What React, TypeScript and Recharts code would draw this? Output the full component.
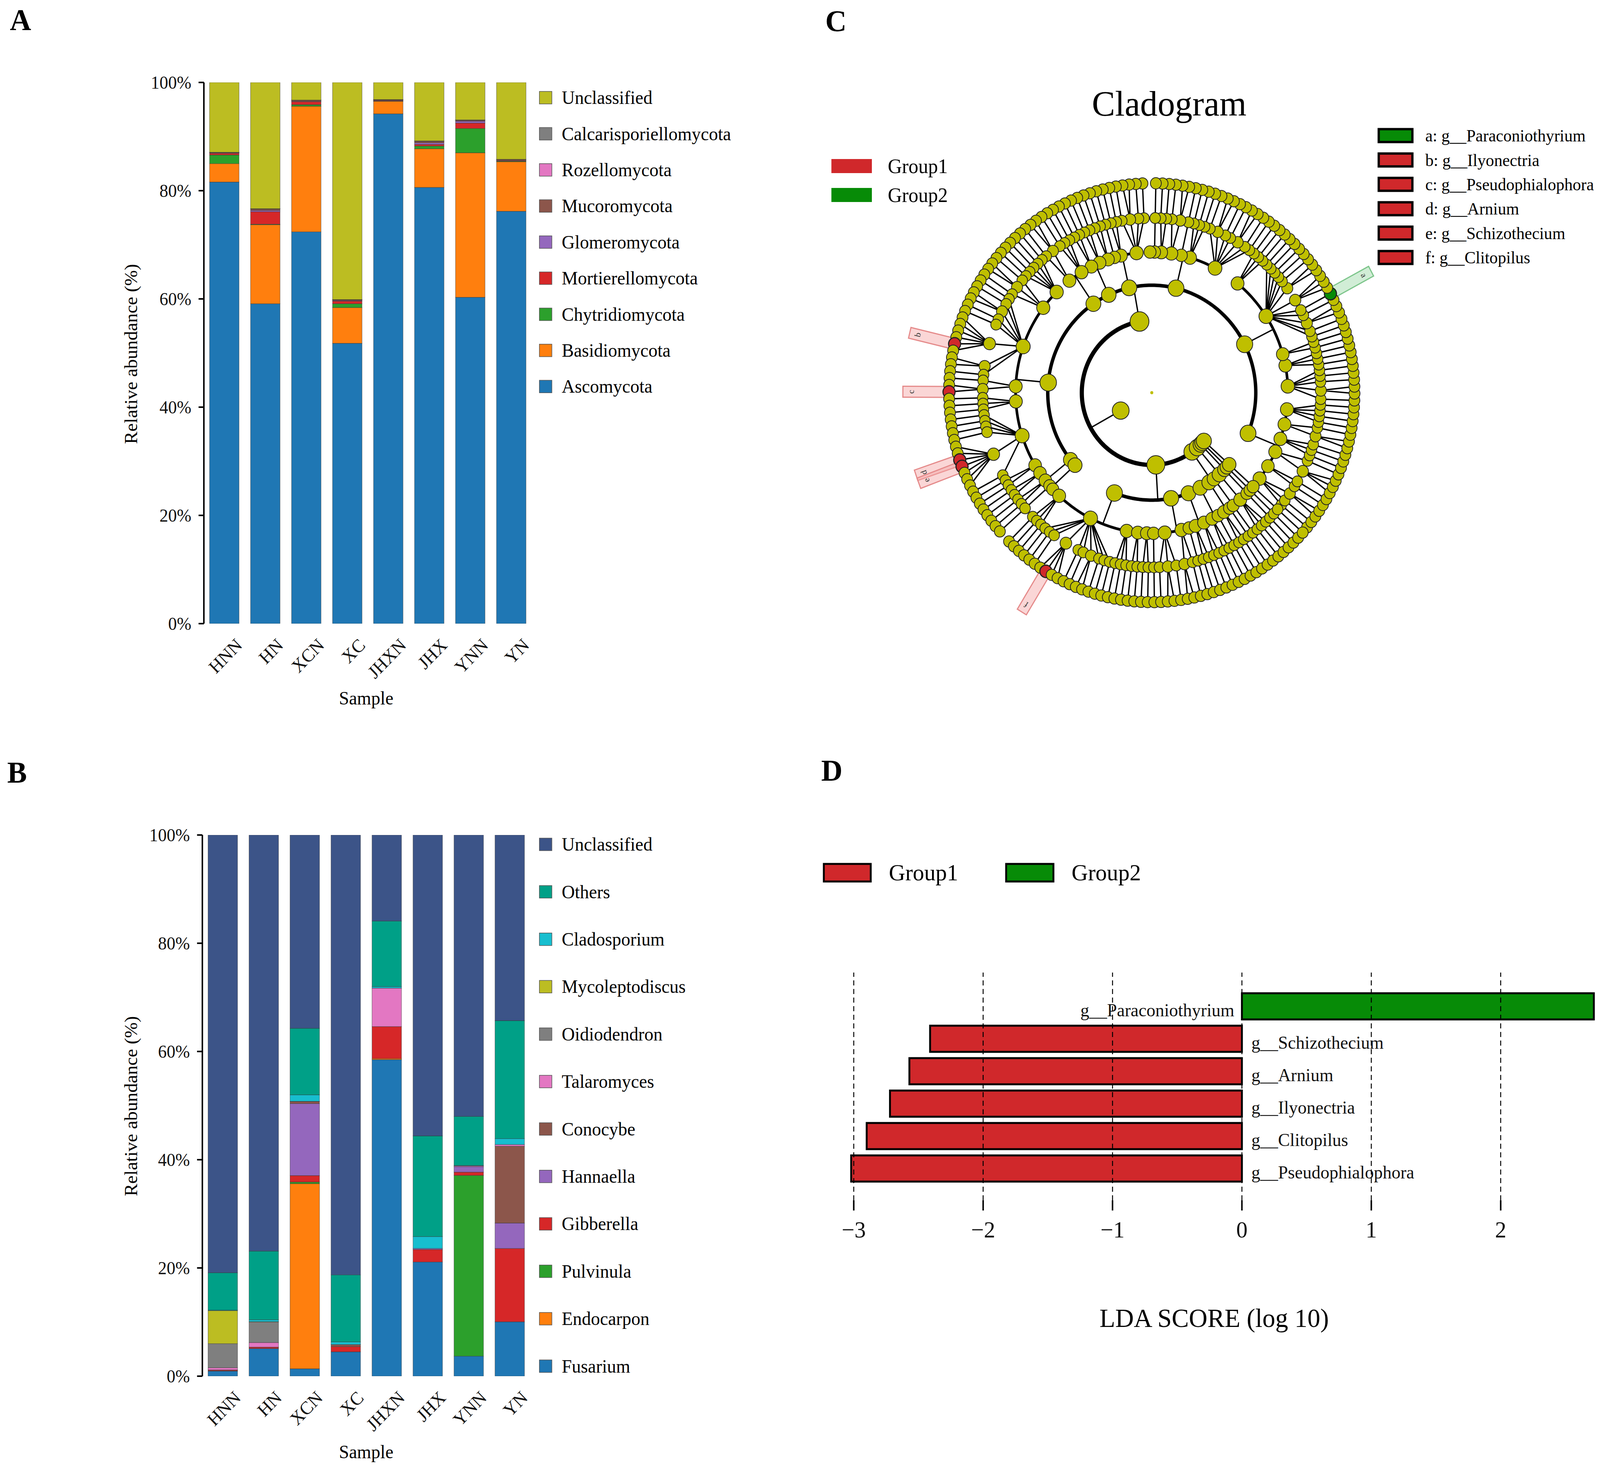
import React from "react";
import {
  BarChart,
  Bar,
  XAxis,
  YAxis,
  Cell,
  LabelList,
  ReferenceLine,
  ComposedChart,
  Line,
  Scatter,
} from "recharts";

const serif = "'Liberation Serif', 'Times New Roman', serif";

const samples = ["HNN", "HN", "XCN", "XC", "JHXN", "JHX", "YNN", "YN"];

// A: phylum level relative abundance (%), stack order bottom -> top
const ascomycota = [81.6, 59.1, 72.4, 51.8, 94.2, 80.6, 60.3, 76.2];
const basidiomycota = [3.4, 14.6, 23.2, 6.6, 2.3, 7.15, 26.7, 9.15];
const chytridiomycota = [1.6, 0.1, 0.3, 0.7, 0.05, 0.5, 4.5, 0.1];
const mortierellomycota = [0.3, 2.3, 0.55, 0.5, 0.1, 0.3, 1.0, 0.1];
const glomeromycota = [0.05, 0.25, 0.05, 0.1, 0.02, 0.3, 0.35, 0.02];
const mucoromycota = [0.1, 0.25, 0.2, 0.15, 0.15, 0.25, 0.15, 0.2];
const rozellomycota = [0.02, 0.05, 0.02, 0.02, 0.02, 0.05, 0.05, 0.02];
const calcarisporiellomycota = [0.03, 0.02, 0.03, 0.02, 0.01, 0.05, 0.03, 0.01];
const unclassifiedPhylum = [12.9, 23.33, 3.25, 40.11, 3.15, 10.8, 6.92, 14.2];

const phylumNames = [
  "Ascomycota",
  "Basidiomycota",
  "Chytridiomycota",
  "Mortierellomycota",
  "Glomeromycota",
  "Mucoromycota",
  "Rozellomycota",
  "Calcarisporiellomycota",
  "Unclassified",
];
const phylumSeries = [
  ascomycota,
  basidiomycota,
  chytridiomycota,
  mortierellomycota,
  glomeromycota,
  mucoromycota,
  rozellomycota,
  calcarisporiellomycota,
  unclassifiedPhylum,
];
const phylumColors = [
  "#1f77b4",
  "#ff7f0e",
  "#2ca02c",
  "#d62728",
  "#9467bd",
  "#8c564b",
  "#e377c2",
  "#7f7f7f",
  "#bcbd22",
];

// B: genus level relative abundance (%), stack order bottom -> top
const fusarium = [0.94, 5.1, 1.37, 4.5, 58.5, 21.1, 3.7, 10.05];
const endocarpon = [0.05, 0, 34.2, 0, 0.2, 0, 0, 0];
const pulvinula = [0, 0, 0.3, 0, 0, 0, 33.4, 0];
const gibberella = [0.15, 0.25, 1.2, 0.97, 5.9, 2.3, 0.6, 13.55];
const hannaella = [0.02, 0.02, 13.3, 0, 0, 0.2, 1.0, 4.7];
const conocybe = [0, 0, 0.4, 0.36, 0, 0, 0, 14.2];
const talaromyces = [0.4, 0.85, 0.02, 0.02, 7.1, 0, 0.15, 0.3];
const oidiodendron = [4.45, 3.8, 0, 0, 0, 0, 0, 0];
const mycoleptodiscus = [6.1, 0.05, 0, 0, 0, 0, 0, 0];
const cladosporium = [0.1, 0.35, 1.2, 0.47, 0.3, 2.2, 0.1, 1.1];
const others = [6.9, 12.7, 12.3, 12.4, 12.1, 18.6, 9.05, 21.8];
const unclassifiedGenus = [80.89, 76.88, 35.71, 81.28, 15.9, 55.6, 52.0, 34.3];

const genusNames = [
  "Fusarium",
  "Endocarpon",
  "Pulvinula",
  "Gibberella",
  "Hannaella",
  "Conocybe",
  "Talaromyces",
  "Oidiodendron",
  "Mycoleptodiscus",
  "Cladosporium",
  "Others",
  "Unclassified",
];
const genusSeries = [
  fusarium,
  endocarpon,
  pulvinula,
  gibberella,
  hannaella,
  conocybe,
  talaromyces,
  oidiodendron,
  mycoleptodiscus,
  cladosporium,
  others,
  unclassifiedGenus,
];
const genusColors = [
  "#1f77b4",
  "#ff7f0e",
  "#2ca02c",
  "#d62728",
  "#9467bd",
  "#8c564b",
  "#e377c2",
  "#7f7f7f",
  "#bcbd22",
  "#17becf",
  "#00a087",
  "#3c5488",
];

// C: cladogram taxonomy (phylum -> class -> order -> genus count per family)
const ascomycotaTree = [
  [[1, 1, 2], [1, 1], [3, 1], [1, 1, 1], [2, 1], [1, 1, 1, 1]],
  [[1, 2, 1, 1, 1], [1, 1, 1], [1, 1], [1, 1, 2, 1, 1, 3, 2, 1, 1, 1, 1, 1], [1, 1, 1]],
  [[1, 1, 2, 1, 1, 2, 1], [1, 1, 1], [1], [2, 1], [1, 1], [1], []],
  [[1, 1, 2, 1], [1, 1], [1], [1, 1]],
  [[1, 1], [1, 1]],
  [[1, 1, 1], [2, 1]],
  [[1, 1, 1, 1, 1], [1, 2, 1], [1, 1, 2, 1, 1, 6, 2, 1], [1, 2], [1, 1, 1], [1, 1, 1, 1, 7, 1], [1, 1], [1, 1]],
  [[1, 1]],
  [[1], []],
];
const basidiomycotaTree = [
  [[1, 1, 1], [1, 1, 1, 4, 1, 1, 2, 1, 1, 1], [1, 1, 1], [1, 1], [1, 1], [1]],
  [[1, 2, 1], [2, 1], [1]],
  [[1, 1], [1, 1]],
  [[1, 1], [1]],
];
const chytridiomycotaTree = [[[1, 1], [1]], [[1]]];
const mortierellomycotaTree = [[[1, 1, 1]]];
const glomeromycotaTree = [[[1]]];
const mucoromycotaTree = [[[1]]];
const rozellomycotaTree = [[[1]]];
const kingdomTree = [
  ascomycotaTree,
  basidiomycotaTree,
  chytridiomycotaTree,
  mortierellomycotaTree,
  glomeromycotaTree,
  mucoromycotaTree,
  rozellomycotaTree,
];

// biomarkers: path = [phylum, class, order, family, genus]
const biomarkers = [
  { letter: "a", genus: "g__Paraconiothyrium", group: 2, path: [0, 1, 3, 4, 0] },
  { letter: "b", genus: "g__Ilyonectria", group: 1, path: [0, 6, 2, 5, 4] },
  { letter: "c", genus: "g__Pseudophialophora", group: 1, path: [0, 6, 3, 1, 1] },
  { letter: "d", genus: "g__Arnium", group: 1, path: [0, 6, 5, 4, 2] },
  { letter: "e", genus: "g__Schizothecium", group: 1, path: [0, 6, 5, 4, 3] },
  { letter: "f", genus: "g__Clitopilus", group: 1, path: [1, 0, 1, 3, 1] },
];

// D: LDA scores
const ldaNames = [
  "g__Paraconiothyrium",
  "g__Schizothecium",
  "g__Arnium",
  "g__Ilyonectria",
  "g__Clitopilus",
  "g__Pseudophialophora",
];
const ldaScores = [2.72, -2.41, -2.57, -2.72, -2.9, -3.02];
const ldaTicks = [-3, -2, -1, 0, 1, 2];

const group1Color = "#d0282b";
const group2Color = "#078b07";
const nodeColor = "#bfbf00";

// ---------- stacked abundance panels ----------
const SampleTick = (props: any) => {
  const { x, y, payload } = props;
  const ax = x + 50;
  const ay = y + 58;
  return (
    <text
      x={ax}
      y={ay}
      transform={`rotate(-45 ${ax} ${ay})`}
      textAnchor="end"
      fontSize={47}
      fontFamily={serif}
      fill="#111"
    >
      {payload.value}
    </text>
  );
};

function AbundanceChart({ names, colors, series, top, height, plotTop, plotLeft }: any) {
  const rows = samples.map((s, i) => {
    const row: any = { sample: s };
    names.forEach((n: string, k: number) => {
      row[n] = series[k][i];
    });
    return row;
  });
  const plotBottom = plotTop + 1385;
  return (
    <div style={{ position: "absolute", left: 0, top }}>
      <BarChart
        width={1500}
        height={height}
        data={rows}
        barSize={78}
        margin={{ top: plotTop, right: 1500 - plotLeft - 867, bottom: height - plotBottom - 200, left: 0 }}
      >
        <XAxis
          dataKey="sample"
          height={200}
          axisLine={false}
          tickLine={false}
          tickSize={0}
          tickMargin={0}
          interval={0}
          tick={SampleTick}
        />
        <YAxis
          width={plotLeft}
          domain={[0, 100]}
          ticks={[0, 20, 40, 60, 80, 100]}
          allowDataOverflow
          tickFormatter={(v) => `${v}%`}
          axisLine={{ stroke: "#000", strokeWidth: 4 }}
          tickLine={{ stroke: "#000", strokeWidth: 4 }}
          tickSize={14}
          tickMargin={19}
          tick={{ fontSize: 46, fill: "#111", fontFamily: serif }}
        />
        {names.map((n: string, k: number) => (
          <Bar
            key={n}
            dataKey={n}
            stackId="s"
            fill={colors[k]}
            stroke="#333"
            strokeOpacity={0.6}
            strokeWidth={1.2}
            isAnimationActive={false}
          />
        ))}
      </BarChart>
    </div>
  );
}

// ---------- cladogram layout ----------
const R = [94, 185, 275, 360, 447, 536];
const START_ANGLE = -40;

function countLeaves(spec: any, level: number): number {
  if (level === 5) return 1;
  if (level === 4) return spec > 0 ? spec : 1;
  if (spec.length === 0) return 1;
  return spec.reduce((s: number, c: any) => s + countLeaves(c, level + 1), 0);
}

const totalLeaves = countLeaves(kingdomTree, 0);
const leafStep = 360 / totalLeaves;

function buildTree() {
  const cursor = { i: 0 };
  const all: any[] = [];
  const build = (spec: any, level: number, path: number[]): any => {
    let kids: any[] = [];
    if (level === 4) kids = Array.from({ length: spec }, () => 0);
    else if (level < 4) kids = spec;
    let node: any;
    if (level === 5 || kids.length === 0) {
      node = { level, angle: START_ANGLE + cursor.i * leafStep, leaves: 1, children: [], path };
      cursor.i += 1;
    } else {
      const children = kids.map((k, i) => build(k, level + 1, [...path, i]));
      node = {
        level,
        angle: (children[0].angle + children[children.length - 1].angle) / 2,
        leaves: children.reduce((s: number, c: any) => s + c.leaves, 0),
        children,
        path,
      };
    }
    all.push(node);
    return node;
  };
  build(kingdomTree, 0, []);
  return all;
}

const cladeNodes = buildTree();
const rad = (a: number) => (a * Math.PI) / 180;
const polar = (r: number, a: number) => ({ x: r * Math.cos(rad(a)), y: r * Math.sin(rad(a)) });
const gap = { x: null, y: null };

function arcPoints(r: number, a0: number, a1: number) {
  const n = Math.max(2, Math.ceil(Math.abs(a1 - a0)));
  const pts = [];
  for (let k = 0; k <= n; k++) pts.push(polar(r, a0 + ((a1 - a0) * k) / n));
  return pts;
}

const arcLayers: any[][] = [[], [], []];
const thinLinks: any[] = [];
cladeNodes.forEach((p) => {
  if (p.children.length === 0) return;
  const angles = p.children.map((c: any) => c.angle);
  if (p.level <= 2) {
    const lo = Math.min(p.angle, ...angles);
    const hi = Math.max(p.angle, ...angles);
    arcLayers[p.level].push(...arcPoints(R[p.level + 1], lo, hi), gap);
    thinLinks.push(polar(R[p.level], p.angle), polar(R[p.level + 1], p.angle), gap);
  } else {
    p.children.forEach((c: any) => {
      thinLinks.push(polar(R[p.level], p.angle), polar(R[c.level], c.angle), gap);
    });
  }
});
const linkLayers = [
  { data: thinLinks, width: 3.5 },
  { data: arcLayers[2], width: 7 },
  { data: arcLayers[1], width: 9 },
  { data: arcLayers[0], width: 11 },
];

const baseNodeR = [17, 20, 18, 16, 14];
const markerByPath: any = {};
biomarkers.forEach((m) => {
  markerByPath[m.path.join(".")] = m;
});

const nodeData = [
  { x: 0, y: 0, r: 4, fill: nodeColor, sw: 0 },
  ...cladeNodes
    .slice()
    .sort((a, b) => a.level - b.level)
    .map((n) => {
      const m = markerByPath[n.path.join(".")];
      const r = n.level === 5 ? 14.5 : baseNodeR[n.level] + 0.7 * Math.log2(n.leaves);
      return {
        ...polar(R[n.level], n.angle),
        r: m ? 16 : r,
        fill: m ? (m.group === 1 ? group1Color : group2Color) : nodeColor,
        sw: m ? 3 : 2,
      };
    }),
];

const markerData = biomarkers.map((m) => {
  const node = cladeNodes.find((n) => n.path.join(".") === m.path.join("."));
  return { ...polar(R[5], node.angle), angle: node.angle, letter: m.letter, group: m.group };
});

const NodeShape = (props: any) => {
  const { cx, cy, payload } = props;
  return (
    <circle
      cx={cx}
      cy={cy}
      r={payload.r}
      fill={payload.fill}
      stroke="#222"
      strokeWidth={payload.sw}
    />
  );
};

const MarkerShape = (props: any) => {
  const { cx, cy, payload } = props;
  const g1 = payload.group === 1;
  return (
    <g transform={`translate(${cx},${cy}) rotate(${-payload.angle})`}>
      <rect
        x={8}
        y={-14}
        width={114}
        height={28}
        fill={g1 ? "#f3a3a3" : "#9ad6a4"}
        fillOpacity={0.45}
        stroke={g1 ? "#e58a8a" : "#7cc58a"}
        strokeWidth={3}
      />
      <text
        x={100}
        y={0}
        fontSize={22}
        fontFamily={serif}
        fill="#333"
        textAnchor="middle"
        dominantBaseline="central"
        transform="rotate(90 100 0)"
      >
        {payload.letter}
      </text>
    </g>
  );
};

function Cladogram() {
  return (
    <div style={{ position: "absolute", left: 3045 - 700, top: 1005 - 700 }}>
      <ComposedChart width={1400} height={1400} margin={{ top: 0, right: 0, bottom: 0, left: 0 }}>
        <XAxis type="number" dataKey="x" domain={[-700, 700]} allowDataOverflow hide />
        <YAxis type="number" dataKey="y" domain={[-700, 700]} allowDataOverflow hide />
        {linkLayers.map((l, i) => (
          <Line
            key={i}
            data={l.data}
            dataKey="y"
            stroke="#000"
            strokeWidth={l.width}
            dot={false}
            activeDot={false}
            connectNulls={false}
            isAnimationActive={false}
          />
        ))}
        <Scatter data={markerData} shape={MarkerShape} isAnimationActive={false} />
        <Scatter data={nodeData} shape={NodeShape} isAnimationActive={false} />
      </ComposedChart>
    </div>
  );
}

// ---------- LDA bar chart ----------
const ldaRows = ldaNames.map((name, i) => ({ name, score: ldaScores[i] }));

const LdaLabel = (props: any) => {
  const { x, y, width, height, value } = props;
  const row = ldaRows.find((r) => r.name === value);
  const left = Math.min(x, x + width);
  const right = Math.max(x, x + width);
  const neg = row && row.score < 0;
  const zero = neg ? right : left;
  return (
    <text
      x={neg ? zero + 25 : zero - 20}
      y={y + height / 2 + 10}
      textAnchor={neg ? "start" : "end"}
      dominantBaseline="central"
      fontSize={47}
      fontFamily={serif}
      fill="#111"
    >
      {value}
    </text>
  );
};

function LdaChart() {
  return (
    <div style={{ position: "absolute", left: 2100, top: 2400 }}>
      <BarChart
        layout="vertical"
        width={2130}
        height={1100}
        data={ldaRows}
        barSize={67}
        margin={{ top: 89, right: 6, bottom: 308, left: 140 }}
      >
        <XAxis
          type="number"
          domain={[-3.05, 2.75]}
          ticks={ldaTicks}
          allowDataOverflow
          height={120}
          axisLine={false}
          tickLine={{ stroke: "#000", strokeWidth: 4 }}
          tickSize={26}
          tickMargin={26}
          tickFormatter={(v) => (v < 0 ? `\u2212${Math.abs(v)}` : `${v}`)}
          tick={{ fontSize: 60, fill: "#111", fontFamily: serif }}
        />
        <YAxis type="category" dataKey="name" hide padding={{ top: 45, bottom: 40 }} />
        <Bar dataKey="score" stroke="#000" strokeWidth={5} isAnimationActive={false}>
          {ldaRows.map((r) => (
            <Cell key={r.name} fill={r.score < 0 ? group1Color : group2Color} />
          ))}
          <LabelList dataKey="name" content={LdaLabel} />
        </Bar>
        {ldaTicks.map((t) => (
          <ReferenceLine key={t} x={t} stroke="#000" strokeWidth={2.5} strokeDasharray="13 9" />
        ))}
      </BarChart>
    </div>
  );
}

// ---------- text, legends ----------
function Overlay() {
  const legendA = phylumNames.map((n, i) => ({ n, c: phylumColors[i] })).reverse();
  const legendB = genusNames.map((n, i) => ({ n, c: genusColors[i] })).reverse();
  return (
    <svg
      width={4230}
      height={3757}
      style={{ position: "absolute", left: 0, top: 0, pointerEvents: "none" }}
      fontFamily={serif}
    >
      <text x={26} y={77} fontSize={78} fontWeight="bold">A</text>
      <text x={19} y={2003} fontSize={78} fontWeight="bold">B</text>
      <text x={2182} y={80} fontSize={78} fontWeight="bold">C</text>
      <text x={2171} y={1998} fontSize={78} fontWeight="bold">D</text>

      <text x={346} y={906} fontSize={48} textAnchor="middle" dominantBaseline="central" transform="rotate(-90 346 906)">
        Relative abundance (%)
      </text>
      <text x={346} y={2831} fontSize={48} textAnchor="middle" dominantBaseline="central" transform="rotate(-90 346 2831)">
        Relative abundance (%)
      </text>
      <text x={968} y={1787} fontSize={48} textAnchor="middle" dominantBaseline="central">Sample</text>
      <text x={968} y={3716} fontSize={48} textAnchor="middle" dominantBaseline="central">Sample</text>

      {legendA.map((e, i) => {
        const cy = 250 + i * 92.4;
        return (
          <g key={e.n}>
            <rect x={1426} y={cy - 16} width={33} height={32} fill={e.c} stroke="#555" strokeWidth={1.5} />
            <text x={1485} y={cy} fontSize={48} dominantBaseline="central">{e.n}</text>
          </g>
        );
      })}
      {legendB.map((e, i) => {
        const cy = 2161 + i * 121.4;
        return (
          <g key={e.n}>
            <rect x={1426} y={cy - 16} width={33} height={32} fill={e.c} stroke="#555" strokeWidth={1.5} />
            <text x={1485} y={cy} fontSize={48} dominantBaseline="central">{e.n}</text>
          </g>
        );
      })}

      <text x={3091} y={296} fontSize={92} textAnchor="middle">Cladogram</text>
      <rect x={2198} y={407} width={107} height={36} fill={group1Color} />
      <rect x={2198} y={481} width={107} height={36} fill={group2Color} />
      <text x={2347} y={425} fontSize={52} dominantBaseline="central">Group1</text>
      <text x={2347} y={499} fontSize={52} dominantBaseline="central">Group2</text>
      {biomarkers.map((m, i) => {
        const cy = 347 + i * 62.4;
        return (
          <g key={m.letter}>
            <rect x={3645} y={cy - 16.5} width={89} height={33} fill={m.group === 1 ? group1Color : group2Color} stroke="#000" strokeWidth={6} />
            <text x={3768} y={cy} fontSize={44} dominantBaseline="central">{`${m.letter}: ${m.genus}`}</text>
          </g>
        );
      })}

      <rect x={2178} y={2211} width={124} height={45} fill={group1Color} stroke="#000" strokeWidth={5} />
      <rect x={2660} y={2211} width={125} height={45} fill={group2Color} stroke="#000" strokeWidth={5} />
      <text x={2350} y={2233} fontSize={60} dominantBaseline="central">Group1</text>
      <text x={2833} y={2233} fontSize={60} dominantBaseline="central">Group2</text>
      <text x={3210} y={3373} fontSize={68} textAnchor="middle" dominantBaseline="central">LDA SCORE (log 10)</text>
    </svg>
  );
}

export default function App() {
  // the visible viewport can be narrower than the 4230 px design; fit the figure into it
  const vw = typeof window !== "undefined" ? window.innerWidth : 4230;
  const vh = typeof window !== "undefined" ? window.innerHeight : 3757;
  const sx = vw > 0 && vw < 4230 ? vw / 4230 : 1;
  const sy = vh > 0 && vh < 3757 ? vh / 3757 : 1;
  return (
    <div
      style={{
        position: "absolute",
        left: 0,
        top: 0,
        width: 4230,
        height: 3757,
        background: "#fff",
        overflow: "hidden",
        fontFamily: serif,
        transform: `scale(${sx}, ${sy})`,
        transformOrigin: "0 0",
      }}
    >
      <AbundanceChart
        names={phylumNames}
        colors={phylumColors}
        series={phylumSeries}
        top={0}
        height={1900}
        plotTop={211}
        plotLeft={539}
      />
      <AbundanceChart
        names={genusNames}
        colors={genusColors}
        series={genusSeries}
        top={1900}
        height={1857}
        plotTop={237}
        plotLeft={535}
      />
      <Cladogram />
      <LdaChart />
      <Overlay />
    </div>
  );
}
